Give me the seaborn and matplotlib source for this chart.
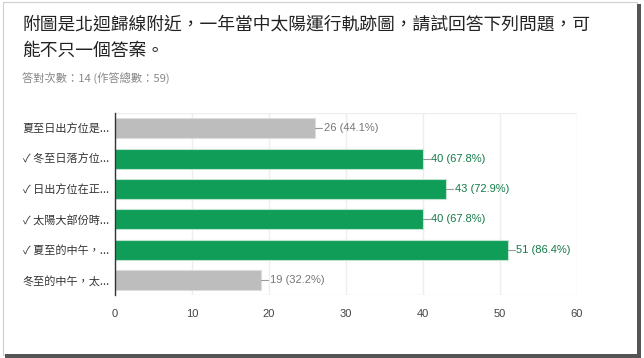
import matplotlib
matplotlib.use('Agg')
import matplotlib.pyplot as plt
import seaborn as sns
import pandas as pd
from matplotlib.patches import Rectangle

# 資料
labels = ['夏至日出方位是...', '✓ 冬至日落方位...', '✓ 日出方位在正...',
          '✓ 太陽大部份時...', '✓ 夏至的中午，...', '冬至的中午，太...']
counts = [26, 40, 43, 40, 51, 19]
correct = [False, True, True, True, True, False]
total = 59
ticks = [0, 10, 20, 30, 40, 50, 60]

title = '附圖是北迴歸線附近，一年當中太陽運行軌跡圖，請試回答下列問題，可\n能不只一個答案。'
subtitle = '答對次數：14 (作答總數：59)'

GREEN = '#0f9d58'
GRAY = '#bdbdbd'

df = pd.DataFrame({'label': labels, 'count': counts,
                   'kind': ['ok' if c else 'ng' for c in correct]})

sns.set_theme(style='white')
plt.rcParams['font.family'] = ['Noto Sans CJK TC', 'DejaVu Sans']

fig = plt.figure(figsize=(6.44, 3.58), dpi=100)
ax = fig.add_axes([0.1786, 0.176, 0.7174, 0.508])

sns.barplot(data=df, x='count', y='label', hue='kind',
            palette={'ok': GREEN, 'ng': GRAY}, dodge=False, legend=False,
            saturation=1, width=0.66, ax=ax, orient='h')
for p in ax.patches:
    fc = p.get_facecolor()
    p.set_edgecolor('#bfe3cf' if fc[1] > 0.55 and fc[0] < 0.3 else '#dddddd')
    p.set_linewidth(0.8)

ax.set_xlim(0, 60)
ax.set_ylim(5.5, -0.5)
ax.set_xticks(ticks)
ax.set_xticklabels([str(t) for t in ticks], fontsize=8, color='#444444',
                   family=['Liberation Sans', 'DejaVu Sans'])
ax.set_xlabel('')
ax.set_ylabel('')
ax.tick_params(axis='y', labelsize=8, labelcolor='#333333', length=0, pad=4)
ax.tick_params(axis='x', length=0, pad=10)
for t in ax.get_yticklabels():
    t.set_family(['Noto Sans CJK TC', 'DejaVu Sans'])

ax.grid(axis='x', color='#eeeeee', linewidth=1)
ax.set_axisbelow(True)
for s in ['top', 'right', 'bottom']:
    ax.spines[s].set_visible(False)
ax.spines['left'].set_color('#333333')
ax.spines['left'].set_linewidth(1)
ax.axhline(5.5, color='#eeeeee', linewidth=1, zorder=0)
ax.axhline(-0.5, color='#eeeeee', linewidth=1, zorder=0)

# 數值標籤
for i, (n, ok) in enumerate(zip(counts, correct)):
    col = '#137a48' if ok else '#777777'
    ax.plot([n, n + 0.9], [i, i], color='#999999', linewidth=0.8, clip_on=False)
    ax.text(n + 1.1, i, f'{n} ({n / total * 100:.1f}%)', va='center', ha='left',
            fontsize=8, color=col, family=['Liberation Sans', 'DejaVu Sans'])

# 標題
fig.text(22 / 644, 1 - 37.5 / 358, title, fontsize=12.8, color='#222222',
         va='center', ha='left', linespacing=1.62)
fig.text(22 / 644, 1 - 79 / 358, subtitle, fontsize=8.1, color='#888888',
         va='center', ha='left')

# 外框陰影
fig.patches.append(Rectangle((0.004, 0.008), 0.985, 0.986, transform=fig.transFigure,
                             fill=False, edgecolor='#cfcfcf', linewidth=0.8))
fig.patches.append(Rectangle((0.989, 0.008), 0.007, 0.98, transform=fig.transFigure,
                             facecolor='#555555', edgecolor='none'))
fig.patches.append(Rectangle((0.008, 0.0), 0.988, 0.01, transform=fig.transFigure,
                             facecolor='#555555', edgecolor='none'))

fig.savefig('out.png', dpi=100)
